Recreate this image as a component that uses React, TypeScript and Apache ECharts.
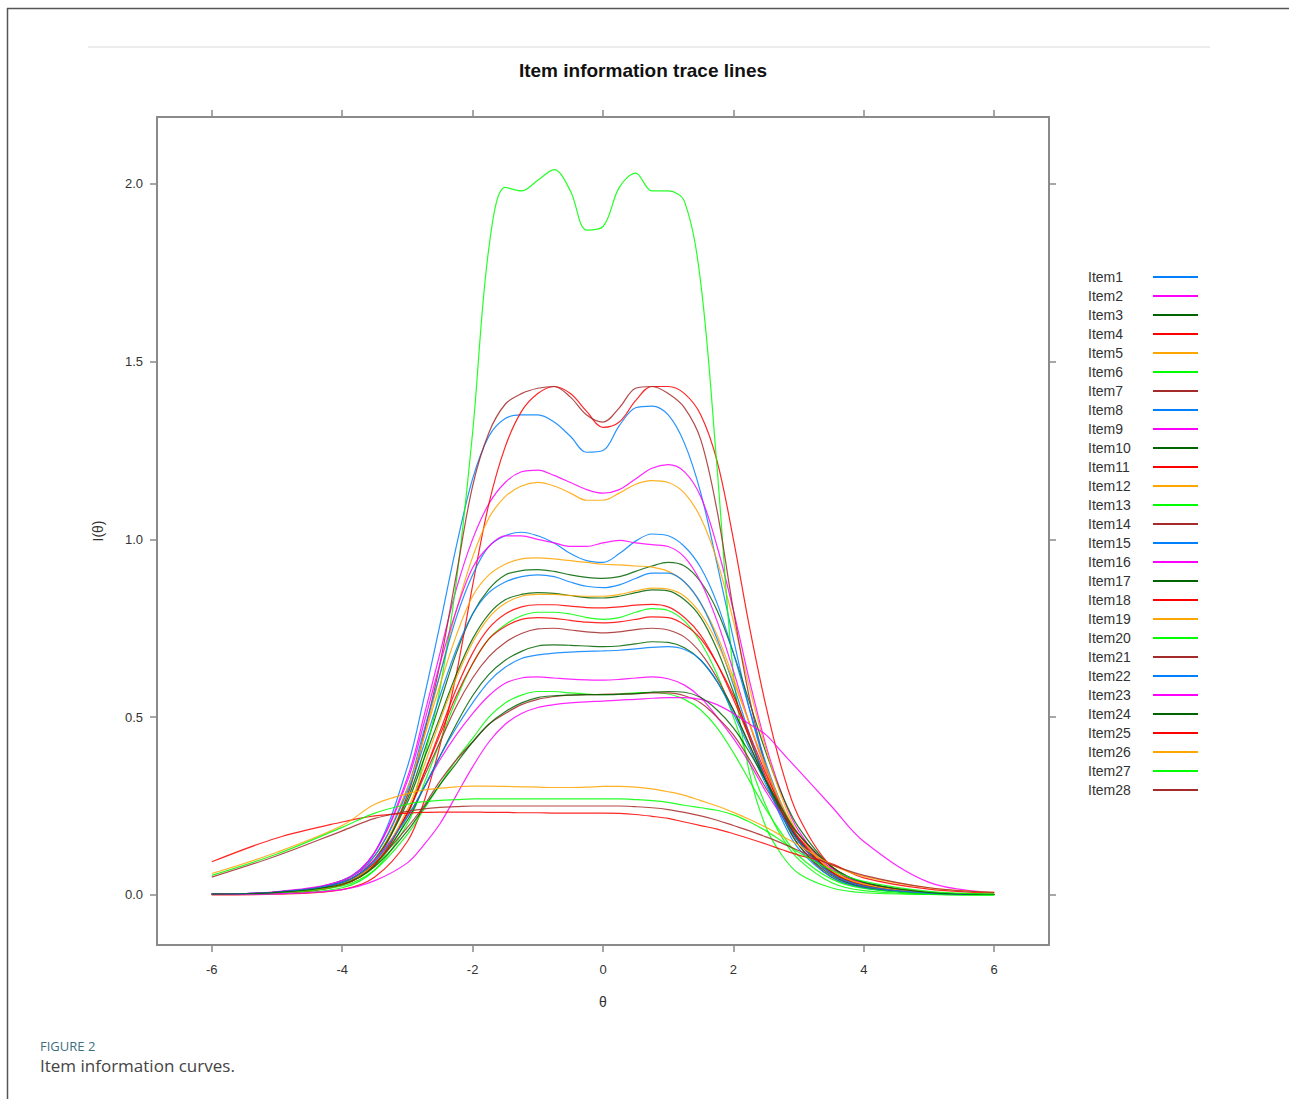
import React, { useEffect, useRef } from "react";
import * as echarts from "echarts";

const theta = [-6, -5, -4, -3.5, -3, -2.75, -2.5, -2.25, -2, -1.75, -1.5, -1.25, -1, -0.75, -0.5, -0.25, 0, 0.25, 0.5, 0.75, 1, 1.25, 1.5, 1.75, 2, 2.25, 2.5, 2.75, 3, 3.5, 4, 5, 6];

const item1 = [0.002, 0.008, 0.04, 0.12, 0.36, 0.55, 0.76, 0.98, 1.17, 1.29, 1.34, 1.35, 1.35, 1.33, 1.29, 1.245, 1.25, 1.32, 1.37, 1.375, 1.35, 1.27, 1.13, 0.93, 0.72, 0.52, 0.36, 0.24, 0.15, 0.06, 0.02, 0.004, 0.001];
const item2 = [0.002, 0.008, 0.04, 0.12, 0.33, 0.5, 0.68, 0.86, 1.0, 1.1, 1.16, 1.19, 1.195, 1.18, 1.16, 1.14, 1.13, 1.14, 1.17, 1.2, 1.21, 1.19, 1.12, 0.98, 0.8, 0.6, 0.42, 0.28, 0.18, 0.07, 0.03, 0.005, 0.001];
const item3 = [0.002, 0.007, 0.035, 0.1, 0.27, 0.4, 0.54, 0.68, 0.79, 0.86, 0.9, 0.912, 0.915, 0.91, 0.9, 0.893, 0.89, 0.895, 0.91, 0.925, 0.935, 0.925, 0.88, 0.8, 0.68, 0.54, 0.4, 0.28, 0.19, 0.08, 0.03, 0.006, 0.001];
const item4 = [0.0, 0.002, 0.015, 0.05, 0.15, 0.26, 0.42, 0.62, 0.87, 1.1, 1.26, 1.36, 1.41, 1.43, 1.41, 1.36, 1.315, 1.33, 1.39, 1.43, 1.43, 1.41, 1.35, 1.22, 1.0, 0.75, 0.53, 0.35, 0.22, 0.08, 0.03, 0.005, 0.001];
const item5 = [0.001, 0.006, 0.03, 0.1, 0.28, 0.44, 0.62, 0.8, 0.95, 1.06, 1.12, 1.15, 1.16, 1.15, 1.13, 1.11, 1.11, 1.13, 1.155, 1.165, 1.16, 1.13, 1.06, 0.94, 0.77, 0.58, 0.41, 0.27, 0.17, 0.07, 0.03, 0.005, 0.001];
const item6 = [0.001, 0.004, 0.03, 0.08, 0.22, 0.38, 0.58, 0.88, 1.3, 1.82, 1.99, 1.98, 2.01, 2.04, 1.98, 1.87, 1.88, 1.99, 2.03, 1.98, 1.98, 1.95, 1.72, 1.2, 0.62, 0.34, 0.19, 0.11, 0.06, 0.02, 0.006, 0.001, 0.0];
const item7 = [0.001, 0.005, 0.03, 0.09, 0.28, 0.45, 0.65, 0.9, 1.15, 1.3, 1.38, 1.41, 1.425, 1.43, 1.4, 1.35, 1.33, 1.37, 1.425, 1.43, 1.41, 1.37, 1.28, 1.08, 0.8, 0.55, 0.36, 0.23, 0.14, 0.05, 0.02, 0.004, 0.001];
const item8 = [0.002, 0.008, 0.04, 0.11, 0.3, 0.46, 0.62, 0.78, 0.9, 0.98, 1.01, 1.02, 1.01, 0.99, 0.96, 0.94, 0.935, 0.96, 0.995, 1.015, 1.01, 0.98, 0.92, 0.82, 0.68, 0.52, 0.37, 0.25, 0.16, 0.06, 0.025, 0.005, 0.001];
const item9 = [0.002, 0.008, 0.04, 0.12, 0.32, 0.48, 0.65, 0.8, 0.92, 0.98, 1.01, 1.01, 1.0, 0.99, 0.98, 0.98, 0.99, 0.997, 0.99, 0.985, 0.98, 0.95, 0.88, 0.77, 0.63, 0.48, 0.35, 0.24, 0.15, 0.06, 0.025, 0.005, 0.001];
const item10 = [0.002, 0.007, 0.035, 0.1, 0.26, 0.38, 0.5, 0.62, 0.72, 0.79, 0.83, 0.845, 0.85, 0.848, 0.842, 0.836, 0.835, 0.84, 0.85, 0.858, 0.855, 0.83, 0.78, 0.69, 0.57, 0.44, 0.32, 0.22, 0.14, 0.055, 0.022, 0.004, 0.001];
const item11 = [0.001, 0.005, 0.028, 0.085, 0.23, 0.34, 0.46, 0.58, 0.68, 0.75, 0.79, 0.81, 0.816, 0.816, 0.812, 0.808, 0.807, 0.81, 0.815, 0.817, 0.81, 0.78, 0.73, 0.65, 0.55, 0.44, 0.33, 0.23, 0.15, 0.06, 0.025, 0.005, 0.001];
const item12 = [0.002, 0.008, 0.04, 0.11, 0.3, 0.44, 0.59, 0.73, 0.84, 0.9, 0.93, 0.945, 0.948, 0.945, 0.94, 0.935, 0.93, 0.928, 0.925, 0.922, 0.91, 0.88, 0.82, 0.73, 0.61, 0.48, 0.35, 0.24, 0.16, 0.065, 0.027, 0.005, 0.001];
const item13 = [0.001, 0.004, 0.02, 0.07, 0.2, 0.31, 0.43, 0.55, 0.65, 0.72, 0.76, 0.785, 0.795, 0.795, 0.79, 0.78, 0.775, 0.78, 0.795, 0.805, 0.8, 0.77, 0.71, 0.62, 0.5, 0.37, 0.25, 0.16, 0.1, 0.035, 0.012, 0.002, 0.0];
const item14 = [0.001, 0.006, 0.03, 0.09, 0.23, 0.33, 0.43, 0.53, 0.61, 0.67, 0.71, 0.735, 0.748, 0.75, 0.745, 0.74, 0.737, 0.74, 0.746, 0.75, 0.745, 0.725, 0.68, 0.61, 0.52, 0.42, 0.32, 0.23, 0.155, 0.065, 0.027, 0.005, 0.001];
const item15 = [0.002, 0.008, 0.04, 0.11, 0.29, 0.42, 0.56, 0.69, 0.79, 0.85, 0.88, 0.895, 0.9, 0.895, 0.88, 0.868, 0.864, 0.872, 0.89, 0.905, 0.905, 0.88, 0.82, 0.72, 0.59, 0.45, 0.32, 0.21, 0.13, 0.05, 0.02, 0.004, 0.001];
const item16 = [0.002, 0.009, 0.04, 0.1, 0.22, 0.3, 0.38, 0.45, 0.51, 0.56, 0.595, 0.61, 0.613, 0.61, 0.607, 0.605, 0.604, 0.606, 0.61, 0.613, 0.608, 0.59, 0.555, 0.5, 0.44, 0.37, 0.29, 0.22, 0.16, 0.075, 0.033, 0.007, 0.001];
const item17 = [0.001, 0.006, 0.03, 0.085, 0.21, 0.3, 0.39, 0.48, 0.56, 0.62, 0.66, 0.685, 0.7, 0.703, 0.702, 0.7, 0.698, 0.7, 0.706, 0.712, 0.71, 0.695, 0.66, 0.6, 0.52, 0.42, 0.32, 0.23, 0.155, 0.065, 0.027, 0.005, 0.001];
const item18 = [0.001, 0.005, 0.028, 0.085, 0.23, 0.34, 0.45, 0.56, 0.65, 0.72, 0.755, 0.775, 0.78, 0.778, 0.772, 0.767, 0.765, 0.768, 0.775, 0.782, 0.78, 0.76, 0.72, 0.65, 0.56, 0.45, 0.34, 0.24, 0.16, 0.065, 0.027, 0.005, 0.001];
const item19 = [0.001, 0.006, 0.03, 0.09, 0.24, 0.36, 0.49, 0.61, 0.71, 0.78, 0.82, 0.84, 0.845, 0.845, 0.842, 0.84, 0.84, 0.845, 0.855, 0.863, 0.86, 0.84, 0.79, 0.71, 0.6, 0.48, 0.36, 0.25, 0.17, 0.07, 0.03, 0.006, 0.001];
const item20 = [0.001, 0.005, 0.025, 0.07, 0.17, 0.24, 0.31, 0.38, 0.44, 0.5, 0.54, 0.562, 0.572, 0.572, 0.568, 0.565, 0.563, 0.565, 0.568, 0.57, 0.565, 0.55, 0.52, 0.47, 0.4, 0.32, 0.24, 0.17, 0.11, 0.045, 0.018, 0.003, 0.0];
const item21 = [0.002, 0.008, 0.035, 0.09, 0.19, 0.25, 0.32, 0.38, 0.43, 0.48, 0.51, 0.535, 0.55, 0.558, 0.562, 0.563, 0.564, 0.565, 0.566, 0.568, 0.568, 0.56, 0.54, 0.5, 0.45, 0.38, 0.3, 0.23, 0.17, 0.08, 0.035, 0.007, 0.001];
const item22 = [0.002, 0.008, 0.035, 0.095, 0.22, 0.3, 0.39, 0.47, 0.54, 0.6, 0.64, 0.665, 0.675, 0.68, 0.683, 0.685, 0.686, 0.688, 0.692, 0.696, 0.698, 0.69, 0.66, 0.6, 0.51, 0.41, 0.31, 0.22, 0.15, 0.06, 0.025, 0.005, 0.001];
const item23 = [0.001, 0.003, 0.015, 0.04, 0.09, 0.14, 0.2, 0.28, 0.36, 0.43, 0.48, 0.51, 0.527, 0.535, 0.54, 0.543, 0.545, 0.548, 0.55, 0.553, 0.555, 0.555, 0.55, 0.535, 0.51, 0.48, 0.45, 0.4, 0.35, 0.25, 0.15, 0.035, 0.006];
const item24 = [0.002, 0.007, 0.03, 0.08, 0.18, 0.245, 0.31, 0.37, 0.43, 0.48, 0.515, 0.54, 0.555, 0.56, 0.562, 0.563, 0.563, 0.564, 0.566, 0.57, 0.572, 0.57, 0.555, 0.52, 0.47, 0.4, 0.32, 0.24, 0.17, 0.08, 0.035, 0.007, 0.001];
const item25 = [0.093, 0.16, 0.205, 0.222, 0.23, 0.232, 0.233, 0.233, 0.233, 0.232, 0.232, 0.231, 0.231, 0.23, 0.23, 0.23, 0.23, 0.229, 0.226, 0.221, 0.215, 0.205, 0.195, 0.185, 0.172, 0.158, 0.143, 0.127, 0.112, 0.088, 0.048, 0.016, 0.005];
const item26 = [0.06, 0.12, 0.195, 0.255, 0.285, 0.295, 0.3, 0.304, 0.306, 0.306, 0.305, 0.304, 0.303, 0.302, 0.302, 0.303, 0.305, 0.305, 0.303, 0.298, 0.29, 0.28, 0.265, 0.25, 0.232, 0.212, 0.19, 0.165, 0.14, 0.085, 0.052, 0.02, 0.007];
const item27 = [0.055, 0.115, 0.19, 0.23, 0.255, 0.262, 0.266, 0.268, 0.27, 0.27, 0.27, 0.27, 0.27, 0.27, 0.27, 0.27, 0.27, 0.27, 0.268, 0.265, 0.26, 0.252, 0.245, 0.238, 0.225, 0.205, 0.18, 0.15, 0.12, 0.07, 0.038, 0.01, 0.003];
const item28 = [0.05, 0.11, 0.18, 0.215, 0.235, 0.242, 0.246, 0.248, 0.25, 0.25, 0.25, 0.25, 0.25, 0.25, 0.25, 0.25, 0.25, 0.25, 0.248, 0.245, 0.24, 0.232, 0.222, 0.21, 0.195, 0.18, 0.163, 0.145, 0.125, 0.085, 0.055, 0.02, 0.007];

const items = [item1, item2, item3, item4, item5, item6, item7, item8, item9, item10, item11, item12, item13, item14, item15, item16, item17, item18, item19, item20, item21, item22, item23, item24, item25, item26, item27, item28];
const itemNames = items.map((_, i) => "Item" + (i + 1));

const palette = ["#0080ff", "#ff00ff", "#006400", "#ff0000", "#ffa500", "#00ff00", "#a52a2a"];

const xTicks = [-6, -4, -2, 0, 2, 4, 6];
const yTicks = [0, 0.5, 1, 1.5, 2];

const FONT = "'Liberation Sans', Arial, sans-serif";
const AXIS_COLOR = "#8a8a8a";

export default function App() {
  const ref = useRef<HTMLDivElement>(null);
  useEffect(() => {
    if (!ref.current) return;
    const chart = echarts.init(ref.current, undefined, { renderer: "svg" });
    const series = items.map((vals, i) => ({
      name: itemNames[i],
      type: "line",
      data: vals.map((v, j) => [theta[j], v]),
      showSymbol: false,
      symbol: "none",
      smooth: 0.35,
      lineStyle: { width: 1.2, color: palette[i % 7], opacity: 0.85 },
      itemStyle: { color: palette[i % 7] },
      emphasis: { disabled: true },
      silent: true,
    }));
    const tickStyle = { show: true, length: 7, lineStyle: { color: AXIS_COLOR, width: 1.5 } };
    const lineStyle = { show: true, onZero: false, lineStyle: { color: AXIS_COLOR, width: 2 } };
    chart.setOption({
      animation: false,
      backgroundColor: "#ffffff",
      title: {
        text: "Item information trace lines",
        left: 638,
        top: 56,
        textAlign: "center",
        textStyle: { fontFamily: FONT, fontSize: 19, fontWeight: "bold", color: "#111" },
      },
      grid: { left: 157, right: 240, top: 117, bottom: 154 },
      legend: {
        orient: "vertical",
        left: 1083,
        top: 265,
        align: "right",
        itemWidth: 45,
        itemHeight: 2,
        itemGap: 5,
        icon: "rect",
        data: itemNames,
        formatter: "{a|{name}}",
        textStyle: {
          fontFamily: FONT,
          fontSize: 14,
          color: "#333",
          rich: { a: { width: 60, align: "left", fontFamily: FONT, fontSize: 14, color: "#333", lineHeight: 16 } },
        },
        selectedMode: false,
      },
      xAxis: [
        {
          type: "value",
          min: -6.84,
          max: 6.84,
          position: "bottom",
          name: "θ",
          nameLocation: "middle",
          nameGap: 50,
          nameTextStyle: { fontFamily: FONT, fontSize: 14, color: "#333" },
          axisLine: lineStyle,
          axisTick: { ...tickStyle, customValues: xTicks },
          axisLabel: { customValues: xTicks, fontFamily: FONT, fontSize: 13, color: "#333", margin: 18 },
          splitLine: { show: false },
        },
        {
          type: "value",
          min: -6.84,
          max: 6.84,
          position: "top",
          axisLine: lineStyle,
          axisTick: { ...tickStyle, customValues: xTicks },
          axisLabel: { show: false },
          splitLine: { show: false },
        },
      ],
      yAxis: [
        {
          type: "value",
          min: -0.141,
          max: 2.188,
          position: "left",
          name: "I(θ)",
          nameLocation: "middle",
          nameGap: 52,
          nameRotate: 90,
          nameTextStyle: { fontFamily: FONT, fontSize: 14, color: "#333" },
          axisLine: lineStyle,
          axisTick: { ...tickStyle, customValues: yTicks },
          axisLabel: {
            customValues: yTicks,
            fontFamily: FONT,
            fontSize: 13,
            color: "#333",
            margin: 14,
            formatter: (v: number) => v.toFixed(1),
          },
          splitLine: { show: false },
        },
        {
          type: "value",
          min: -0.141,
          max: 2.188,
          position: "right",
          axisLine: lineStyle,
          axisTick: { ...tickStyle, customValues: yTicks },
          axisLabel: { show: false },
          splitLine: { show: false },
        },
      ],
      series,
      graphic: [
        { type: "line", shape: { x1: 7.5, y1: 8, x2: 7.5, y2: 1099 }, style: { stroke: "#555", lineWidth: 1.5 }, silent: true },
        { type: "line", shape: { x1: 7, y1: 8.5, x2: 1289, y2: 8.5 }, style: { stroke: "#555", lineWidth: 1.5 }, silent: true },
        { type: "line", shape: { x1: 88, y1: 47, x2: 1210, y2: 47 }, style: { stroke: "#ececec", lineWidth: 2 }, silent: true },
        {
          type: "text",
          left: 40,
          top: 1039,
          style: { text: "FIGURE 2", fontFamily: "'Open Sans', sans-serif", fontSize: 13, fill: "#3f6e7e" },
          silent: true,
        },
        {
          type: "text",
          left: 40,
          top: 1057,
          style: { text: "Item information curves.", fontFamily: "'Open Sans', sans-serif", fontSize: 17, fill: "#444" },
          silent: true,
        },
      ],
    });
    return () => chart.dispose();
  }, []);
  return <div ref={ref} style={{ position: "absolute", left: 0, top: 0, width: 1289, height: 1099 }} />;
}
